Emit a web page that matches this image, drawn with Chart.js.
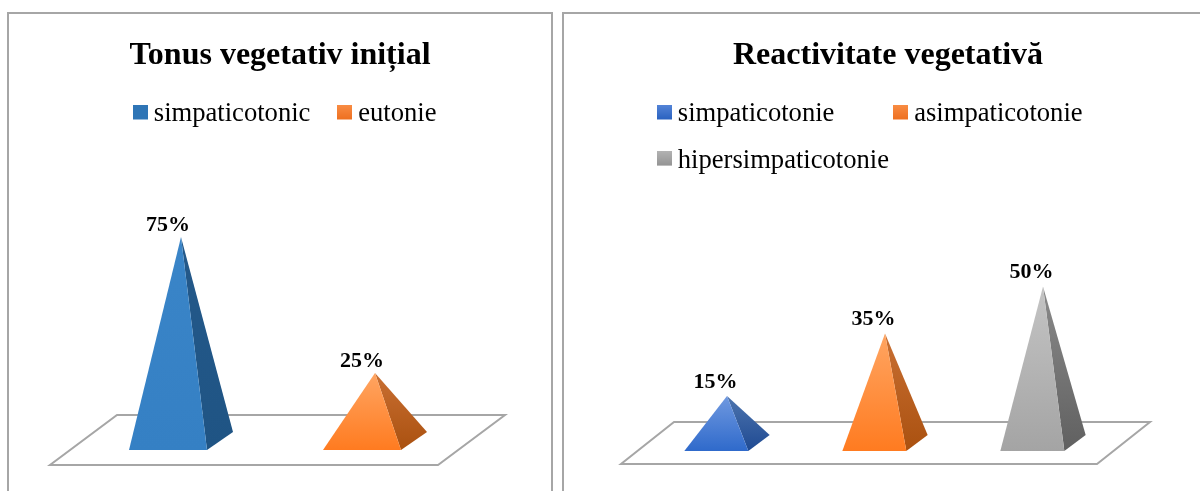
<!DOCTYPE html>
<html><head><meta charset="utf-8">
<style>
html,body{margin:0;padding:0;background:#fff;width:1200px;height:491px;overflow:hidden;position:relative}
.panel{position:absolute;top:12px;height:479px;border:2px solid #a6a6a6;border-bottom:none;box-sizing:border-box}
canvas{position:absolute;top:14px;display:block}
</style>
<script src="https://cdn.jsdelivr.net/npm/chart.js@4"></script>
</head><body>
<div class="panel" style="left:7px;width:546px"></div>
<div class="panel" style="left:562px;width:700px"></div>
<canvas id="c1" width="542" height="477" style="left:9px;width:542px;height:477px"></canvas>
<canvas id="c2" width="648" height="477" style="left:564px;width:648px;height:477px"></canvas>
<script>
const title1 = "Tonus vegetativ inițial";
const categories1 = ["simpaticotonic", "eutonie"];
const values1 = [75, 25];
const title2 = "Reactivitate vegetativă";
const categories2 = ["simpaticotonie", "asimpaticotonie", "hipersimpaticotonie"];
const values2 = [15, 35, 50];

const SERIF = "'Liberation Serif'";
const paletteBlue1 = {front:["#3a85c8","#3580c4"], side:["#24598a","#1f5484"], key:["#2e75b6","#2e75b6"]};
const paletteBlue2 = {front:["#7099e0","#2f6acb"], side:["#4d74ae","#1f4a92"], key:["#5585d8","#2a62c0"]};
const paletteOrange = {front:["#ffa562","#ff7b20"], side:["#c96f32","#aa5110"], key:["#f98d45","#ee7020"]};
const paletteGray = {front:["#c4c4c4","#a4a4a4"], side:["#8a8a8a","#606060"], key:["#b4b4b4","#949494"]};

function keyImage(p){
  const c = document.createElement('canvas'); c.width = 15; c.height = 20;
  const x = c.getContext('2d'); const g = x.createLinearGradient(0,0,0,15);
  g.addColorStop(0,p.key[0]); g.addColorStop(1,p.key[1]);
  x.fillStyle = g; x.fillRect(0,0,15,15); return c;
}
function vGrad(ctx, top, bottom, cols){
  const g = ctx.createLinearGradient(0,top,0,bottom);
  g.addColorStop(0,cols[0]); g.addColorStop(1,cols[1]); return g;
}
function tri(ctx, pts, fill){
  ctx.beginPath(); ctx.moveTo(pts[0][0],pts[0][1]);
  ctx.lineTo(pts[1][0],pts[1][1]); ctx.lineTo(pts[2][0],pts[2][1]); ctx.closePath();
  ctx.fillStyle = fill; ctx.fill();
}
const pyramids = {
  id:'pyramids',
  afterLayout(chart, args, o){
    const l = chart.legend;
    l.left = o.legendLeft; l.top = o.legendTop; l.bottom = l.top + l.height;
  },
  beforeDatasetsDraw(chart, args, o){
    const ctx = chart.ctx, a = chart.chartArea, b = a.bottom;
    ctx.save();
    ctx.beginPath();
    ctx.moveTo(a.left+o.floor[0], b+o.floor[4]);
    ctx.lineTo(a.right+o.floor[1], b+o.floor[4]);
    ctx.lineTo(a.right+o.floor[3], b+o.floor[5]);
    ctx.lineTo(a.left+o.floor[2], b+o.floor[5]);
    ctx.closePath();
    ctx.strokeStyle = '#a6a6a6'; ctx.lineWidth = 2; ctx.stroke();
    ctx.restore();
  },
  afterDatasetsDraw(chart, args, o){
    const ctx = chart.ctx, meta = chart.getDatasetMeta(0), vals = chart.data.datasets[0].data;
    ctx.save();
    meta.data.forEach((el,i)=>{
      const w = el.width, x = el.x, top = el.y, base = el.base, p = o.palettes[i];
      const d = w*o.depth;
      const fl = [x-w*2/3, base+d], fr = [x+w/3, base+d], br = [x+w*2/3, base-d], ap = [x, top];
      tri(ctx,[fr,br,ap],vGrad(ctx,top,base+d,p.side));
      tri(ctx,[fl,fr,ap],vGrad(ctx,top,base+d,p.front));
      ctx.fillStyle = '#000'; ctx.font = 'bold 22px '+SERIF;
      ctx.textAlign = 'center'; ctx.textBaseline = 'middle';
      ctx.fillText(vals[i]+'%', x-o.labelShift, top-o.labelGap);
    });
    ctx.restore();
  }
};
function build(id, title, cats, vals, o){
  const hidden = (w)=>({display:true, ticks:{display:false}, grid:{display:false}, border:{display:false},
    afterFit(s){s.width = w;}});
  new Chart(document.getElementById(id),{
    type:'bar',
    data:{labels:cats, datasets:[{data:vals, backgroundColor:'rgba(0,0,0,0)', barThickness:o.barW}]},
    options:{
      responsive:false, animation:false, maintainAspectRatio:false,
      layout:{padding:0},
      scales:{
        x:{display:true, ticks:{display:false}, grid:{display:false}, border:{display:false},
           afterFit(s){s.height = o.bottom;}},
        y:Object.assign(hidden(o.axisL),{min:0,max:o.max,position:'left'}),
        y2:Object.assign(hidden(o.axisR),{position:'right'})
      },
      plugins:{
        title:{display:true,text:title,color:'#000',font:{family:SERIF,size:32,weight:'bold',lineHeight:1.2},padding:{top:23,bottom:4.6}},
        tooltip:{enabled:false},
        legend:{display:true,position:'top',align:'start',
          labels:{color:'#000',font:{family:SERIF,size:26.6},padding:o.legendPad,usePointStyle:true,pointStyleWidth:0.5,
            generateLabels(){return cats.map((t,i)=>({text:t+(o.pads[i]||''),pointStyle:keyImage(o.palettes[i]),fontColor:'#000',datasetIndex:0,index:i,hidden:false,lineWidth:0,strokeStyle:'transparent',fillStyle:'transparent'}));}
          }},
        pyramids:{palettes:o.palettes,depth:o.depth,floor:o.floor,labelGap:o.labelGap,labelShift:o.labelShift,legendLeft:o.legendLeft,legendTop:o.legendTop}
      }
    },
    plugins:[pyramids]
  });
}
build('c1',title1,categories1,values1,{barW:78,max:106.8,bottom:50,axisL:75,axisR:79,legendPad:34,pads:[],
  palettes:[paletteBlue1,paletteOrange],depth:0.115,labelGap:12,labelShift:13,floor:[-34,-34,33,33,24,-26],legendLeft:97,legendTop:53.2});
build('c2',title2,categories2,values2,{barW:64,max:83.3,bottom:48,axisL:84,axisR:90,legendPad:19.5,pads:['\u00a0\u00a0\u00a0\u00a0\u00a0\u00a0\u00a0'],
  palettes:[paletteBlue2,paletteOrange,paletteGray],depth:0.125,labelGap:14,labelShift:11.5,floor:[-27,-25,26,28,21,-21],legendLeft:80.5,legendTop:67.7});
</script>
</body></html>
